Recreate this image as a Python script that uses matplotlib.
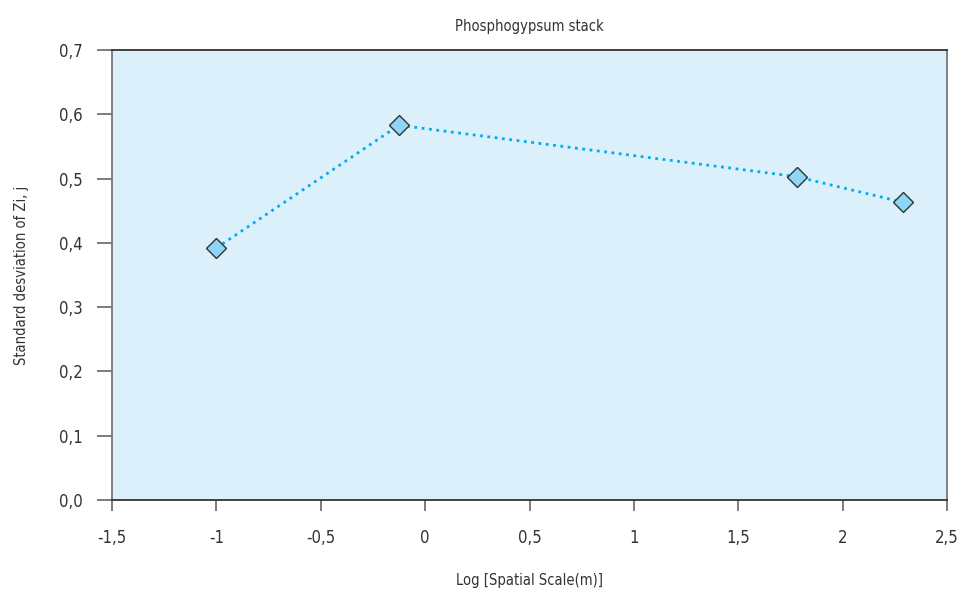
import matplotlib
matplotlib.use("Agg")
import matplotlib.pyplot as plt
from matplotlib.ticker import FixedLocator

log_scale = [-1.0, -0.125, 1.78, 2.29]
std_dev = [0.392, 0.583, 0.503, 0.463]

x_ticks = [-1.5, -1, -0.5, 0, 0.5, 1, 1.5, 2, 2.5]
x_tick_labels = ["-1,5", "-1", "-0,5", "0", "0,5", "1", "1,5", "2", "2,5"]
y_ticks = [0.0, 0.1, 0.2, 0.3, 0.4, 0.5, 0.6, 0.7]
y_tick_labels = ["0,0", "0,1", "0,2", "0,3", "0,4", "0,5", "0,6", "0,7"]

plt.rcParams['font.family'] = ['DejaVu Sans']
plt.rcParams['font.stretch'] = 'condensed'
text_color = '#333333'

fig = plt.figure(figsize=(9.63, 5.97), dpi=100)
ax = fig.add_axes([0.1163, 0.1625, 0.8671, 0.7537])
ax.set_facecolor('#dbf0fa')

ax.plot(log_scale, std_dev, linestyle=':', linewidth=2, color='#00aeef',
        marker='D', markersize=10, markerfacecolor='#8dd6f5',
        markeredgecolor='#333333', markeredgewidth=1)

ax.set_xlim(-1.5, 2.5)
ax.set_ylim(0, 0.7)
ax.xaxis.set_major_locator(FixedLocator(x_ticks))
ax.set_xticklabels(x_tick_labels)
ax.yaxis.set_major_locator(FixedLocator(y_ticks))
ax.set_yticklabels(y_tick_labels)

ax.tick_params(axis='both', direction='out', width=1.2, color='#666666',
               labelsize=12, labelcolor=text_color)
ax.tick_params(axis='x', length=8, pad=13)
ax.tick_params(axis='y', length=11, pad=10)

ax.spines['left'].set_color('#777777')
ax.spines['right'].set_color('#777777')
ax.spines['top'].set_color('#333333')
ax.spines['bottom'].set_color('#333333')
for s in ax.spines.values():
    s.set_linewidth(1.3)

ax.set_title('Phosphogypsum stack', fontsize=10.5, color=text_color, pad=14)

# axis labels placed at fixed spots below / left of the frame
ax.set_xlabel('Log [Spatial Scale(m)]', fontsize=10.5, color=text_color, va='center')
ax.xaxis.set_label_coords(0.5, -0.178)
ax.set_ylabel('Standard desviation of Zi, j', fontsize=10.5, color=text_color, va='center')
ax.yaxis.set_label_coords(-0.108, 0.5)

fig.savefig('out.png', dpi=100)
